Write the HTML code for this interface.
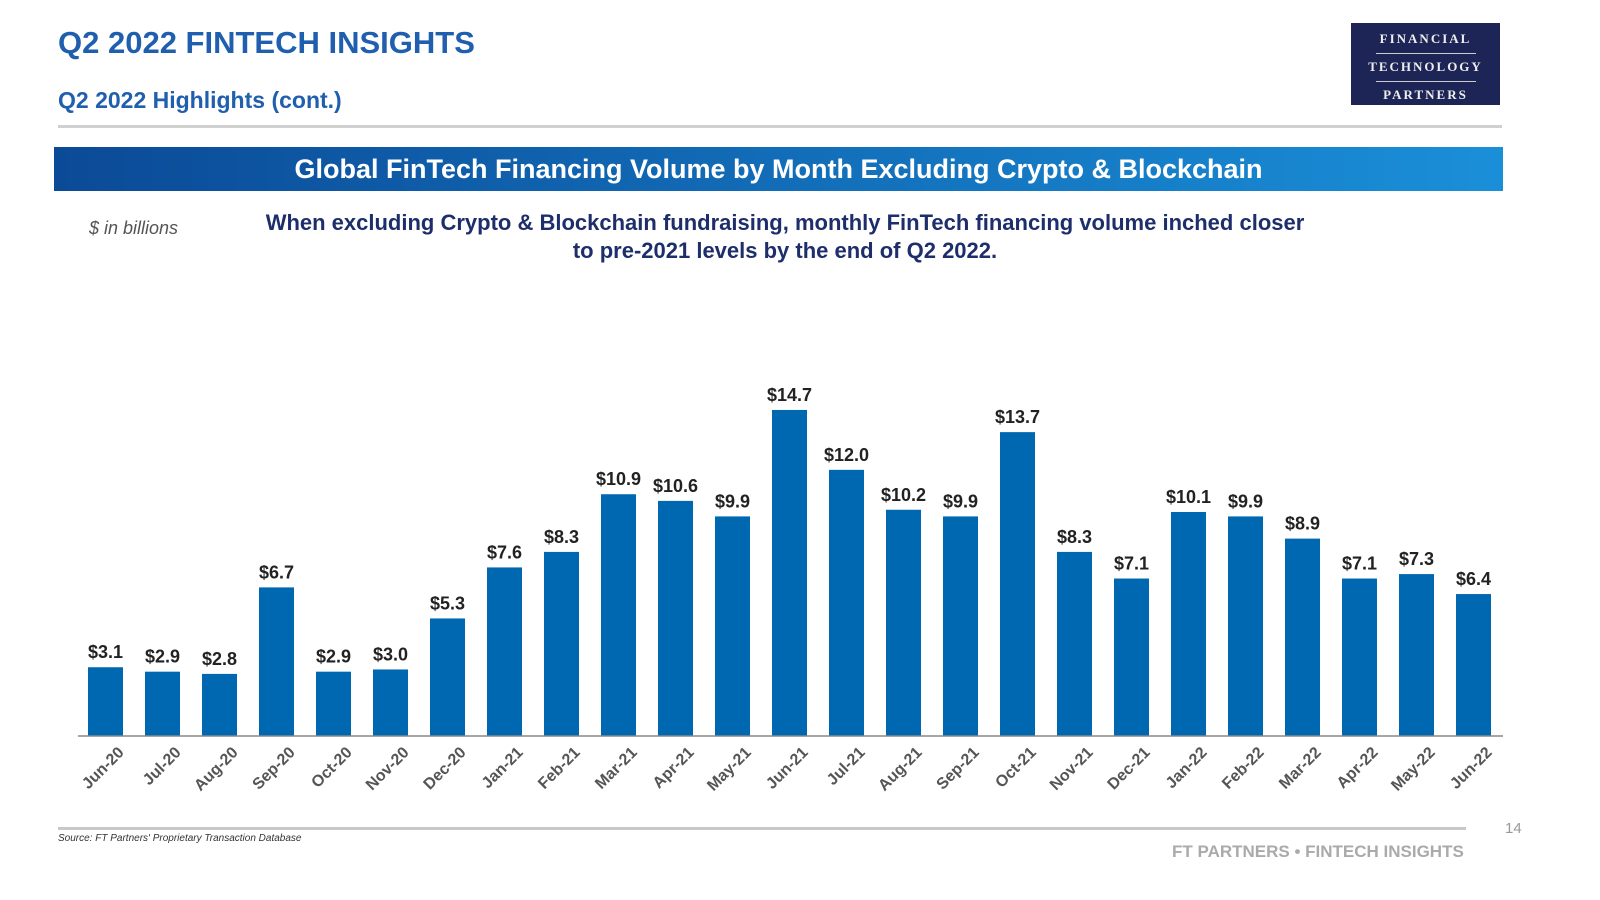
<!DOCTYPE html>
<html><head><meta charset="utf-8"><style>
body{margin:0;width:1600px;height:900px;background:#fff;font-family:"Liberation Sans",sans-serif;position:relative;overflow:hidden}
.abs{position:absolute}
</style></head><body>
<div class="abs" style="left:58px;top:25px;font-size:31px;font-weight:bold;color:#1f5fae">Q2 2022 FINTECH INSIGHTS</div>
<div class="abs" style="left:58px;top:87px;font-size:23px;font-weight:bold;color:#1f5fae">Q2 2022 Highlights (cont.)</div>
<div class="abs" style="left:58px;top:125px;width:1444px;height:3px;background:#d0d0d0"></div>
<div class="abs" style="left:1351px;top:23px;width:149px;height:82px;background:#1d2556;color:#eee;font-family:'Liberation Serif',serif;font-weight:bold;font-size:13px;letter-spacing:2px;text-align:center">
<div style="margin-top:8px">FINANCIAL</div><div style="width:100px;height:1px;background:#ccc;margin:6px auto 5px"></div>
<div>TECHNOLOGY</div><div style="width:100px;height:1px;background:#ccc;margin:6px auto 5px"></div>
<div>PARTNERS</div></div>
<div class="abs" style="left:54px;top:147px;width:1449px;height:44px;background:linear-gradient(90deg,#0b4a97,#1a8fd8);color:#fff;font-size:27px;font-weight:bold;text-align:center;line-height:44px">Global FinTech Financing Volume by Month Excluding Crypto &amp; Blockchain</div>
<div class="abs" style="left:89px;top:218px;font-size:18px;font-style:italic;color:#555">$ in billions</div>
<div class="abs" style="left:230px;top:209px;width:1110px;text-align:center;font-size:22px;font-weight:bold;color:#1d2e6b;line-height:28px">When excluding Crypto &amp; Blockchain fundraising, monthly FinTech financing volume inched closer<br>to pre-2021 levels by the end of Q2 2022.</div>
<svg class="abs" style="left:0;top:0" width="1600" height="900" id="chart"></svg>
<div class="abs" style="left:58px;top:827px;width:1408px;height:3px;background:#c8c8c8"></div>
<div class="abs" style="left:58px;top:833px;font-size:10px;font-style:italic;color:#333">Source: FT Partners' Proprietary Transaction Database</div>
<div class="abs" style="left:1505px;top:820px;font-size:15px;color:#999">14</div>
<div class="abs" style="left:1172px;top:842px;font-size:17px;font-weight:bold;color:#aaa">FT PARTNERS • FINTECH INSIGHTS</div>
<script>
const categories=["Jun-20","Jul-20","Aug-20","Sep-20","Oct-20","Nov-20","Dec-20","Jan-21","Feb-21","Mar-21","Apr-21","May-21","Jun-21","Jul-21","Aug-21","Sep-21","Oct-21","Nov-21","Dec-21","Jan-22","Feb-22","Mar-22","Apr-22","May-22","Jun-22"];
const values=[3.1,2.9,2.8,6.7,2.9,3.0,5.3,7.6,8.3,10.9,10.6,9.9,14.7,12.0,10.2,9.9,13.7,8.3,7.1,10.1,9.9,8.9,7.1,7.3,6.4];
const svg=document.getElementById('chart');const NS='http://www.w3.org/2000/svg';
const x=i=>105.5+i*57;const y=v=>736-v*22.18;
function mk(t,a){const e=document.createElementNS(NS,t);for(const k in a)e.setAttribute(k,a[k]);svg.appendChild(e);return e;}
categories.forEach((c,i)=>{
 const r=mk('rect',{x:x(i)-17.5,y:y(values[i]),width:35,height:736-y(values[i]),fill:'#0067b1'});
 
 
 const t=mk('text',{x:x(i),y:y(values[i])-9,'text-anchor':'middle','font-size':'18','font-weight':'bold',fill:'#222','font-family':'Liberation Sans'});
 t.textContent='$'+values[i].toFixed(1);
 
 
 const l=mk('text',{x:x(i)+12,y:746,'text-anchor':'end','font-size':'16','font-weight':'bold',fill:'#555','font-family':'Liberation Sans',transform:`rotate(-45 ${x(i)+12} 746)`,'dominant-baseline':'hanging'});
 l.textContent=c;
 
 
});
const ax=mk('line',{x1:78,x2:1503,y1:736,y2:736,stroke:'#888','stroke-width':1.5});


</script>
</body></html>
